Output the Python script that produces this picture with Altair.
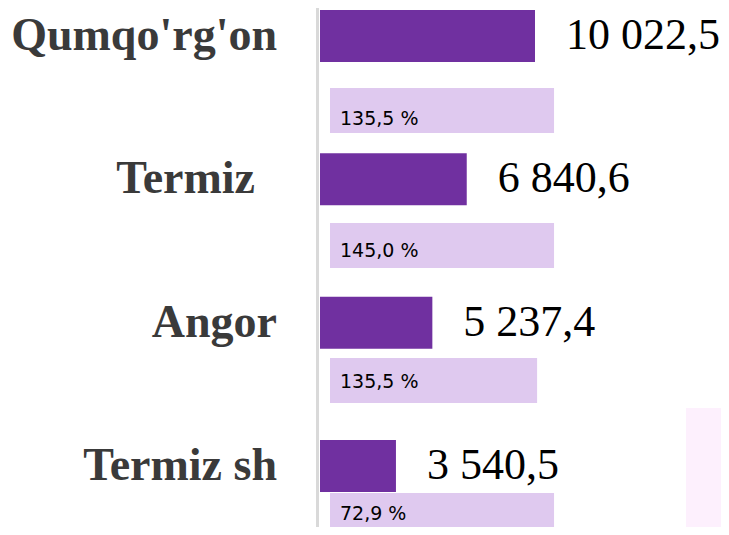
import altair as alt
import pandas as pd

# ---- data ----
categories = ["Qumqo'rg'on", "Termiz", "Angor", "Termiz sh"]
values = [10022.5, 6840.6, 5237.4, 3540.5]
value_labels = ["10 022,5", "6 840,6", "5 237,4", "3 540,5"]
percents = [135.5, 145.0, 135.5, 72.9]
percent_labels = ["135,5 %", "145,0 %", "135,5 %", "72,9 %"]
light_start = [466, 466, 466, 466]
light_end = [10910, 10910, 10120, 10910]

df = pd.DataFrame({
    "cat": categories,
    "value": values,
    "vlabel": value_labels,
    "pct": percents,
    "plabel": percent_labels,
    "ls": light_start,
    "le": light_end,
})
one = pd.DataFrame({"a": [0]})

xscale = alt.Scale(domain=[0, 18693], nice=False, zero=True)
ydark = alt.Scale(type="band", domain=categories, range=[2, 484],
                  paddingInner=0.6372, paddingOuter=0)
ylight = alt.Scale(type="band", domain=categories, range=[80, 530],
                   paddingInner=0.6667, paddingOuter=0)
ypct = alt.Scale(type="point", domain=categories, range=[117, 511.5],
                 padding=0)

pink = alt.Chart(one).mark_rect(color="#FDF0FD").encode(
    x=alt.value(366), x2=alt.value(430), y=alt.value(400), y2=alt.value(540)
)

rule = alt.Chart(one).mark_rule(color="#D9D9D9", strokeWidth=3).encode(
    x=alt.value(-2.5), y=alt.value(-10), y2=alt.value(540)
)

light = alt.Chart(df).mark_bar(color="#DFC9EF").encode(
    y=alt.Y("cat:N", scale=ylight, axis=None),
    x=alt.X("ls:Q", scale=xscale, axis=None),
    x2="le:Q",
)

dark = alt.Chart(df).mark_bar(color="#7030A0").encode(
    y=alt.Y("cat:N", scale=ydark, axis=None),
    x=alt.X("value:Q", scale=xscale, axis=None),
)

cat_style = dict(align="right", baseline="middle", font="Liberation Serif",
                 fontSize=46, fontWeight="bold", color="#3A3A3A")

cat_text = alt.Chart(df).transform_filter("datum.cat != 'Termiz'").mark_text(
    **cat_style
).encode(
    y=alt.Y("cat:N", scale=ydark, axis=None),
    x=alt.value(-43),
    text="cat:N",
)

cat_text2 = alt.Chart(df).transform_filter("datum.cat == 'Termiz'").mark_text(
    **cat_style
).encode(
    y=alt.Y("cat:N", scale=ydark, axis=None),
    x=alt.value(-65),
    text="cat:N",
)

pct_text = alt.Chart(df).mark_text(
    align="left", baseline="alphabetic", dx=10,
    font="DejaVu Sans", fontSize=19, color="#000000"
).encode(
    y=alt.Y("cat:N", scale=ypct, axis=None),
    x=alt.X("ls:Q", scale=xscale, axis=None),
    text="plabel:N",
)

val_text = alt.Chart(df).mark_text(
    align="left", baseline="middle", dx=31,
    font="Liberation Serif", fontSize=44, color="#000000"
).encode(
    y=alt.Y("cat:N", scale=ydark, axis=None),
    x=alt.X("value:Q", scale=xscale, axis=None),
    text="vlabel:N",
)

chart = alt.layer(pink, rule, light, dark, cat_text, cat_text2, pct_text,
                  val_text).resolve_scale(
    y="independent"
).properties(
    width=401, height=519,
    autosize=alt.AutoSizeParams(type="none"),
    padding={"left": 312, "top": 0, "right": 0, "bottom": 0},
).configure_view(stroke=None)

chart.save("out.html", embed_options={"renderer": "svg", "actions": False})
